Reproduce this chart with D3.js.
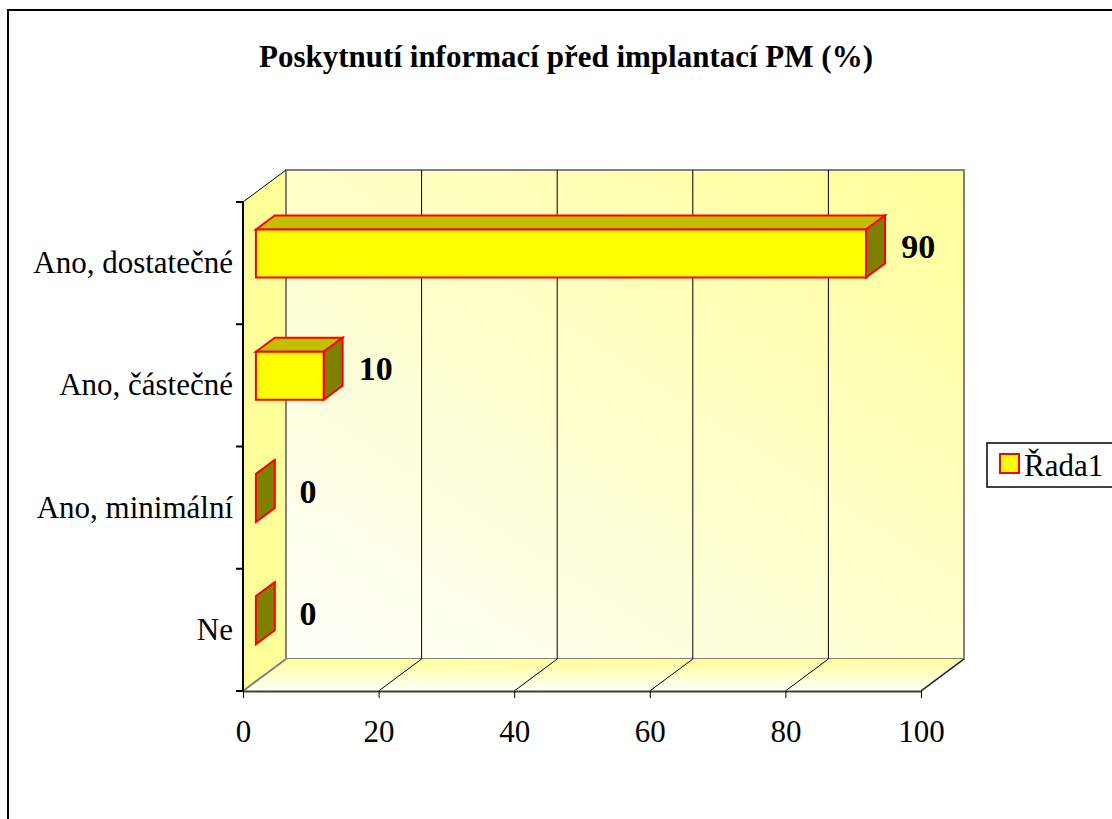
<!DOCTYPE html>
<html>
<head>
<meta charset="utf-8">
<script src="https://cdn.jsdelivr.net/npm/d3@7"></script>
<style>
  html, body { margin: 0; padding: 0; background: #fff; }
  svg { display: block; }
  text { font-family: "Liberation Serif", "Times New Roman", serif; fill: #000; }
</style>
</head>
<body>
<svg id="chart" width="1112" height="819"></svg>
<script>
// Chart data
const title = "Poskytnutí informací před implantací PM (%)";
const categories = ["Ano, dostatečné", "Ano, částečné", "Ano, minimální", "Ne"];
const values = [90, 10, 0, 0];
const xTicks = [0, 20, 40, 60, 80, 100];
const seriesName = "Řada1";

const SERIF = "'Liberation Serif', 'Times New Roman', serif";
const svg = d3.select("#chart");

// Outer chart-area frame
svg.append("rect")
  .attr("x", 8).attr("y", 10).attr("width", 1200).attr("height", 900)
  .attr("fill", "#fff").attr("stroke", "#000").attr("stroke-width", 2);

// Plot geometry (front plane) and oblique depth
const x = d3.scaleLinear().domain([0, 100]).range([243, 921]);
const y = d3.scaleBand().domain(categories).range([202, 691]).padding(0);
const DX = 43, DY = 32;              // depth offset of the back wall
const P = (px, py, z) => [px + z * DX, py - z * DY];
const poly = pts => "M" + pts.map(p => p.join(",")).join("L") + "Z";

const x0 = x.range()[0], x1 = x.range()[1];
const yTop = y.range()[0], yBot = y.range()[1];

const defs = svg.append("defs");
const gWall = defs.append("linearGradient").attr("id", "wallGrad")
  .attr("x1", "1").attr("y1", "0").attr("x2", "0.1").attr("y2", "1");
gWall.append("stop").attr("offset", "0").attr("stop-color", "#FFFF99");
gWall.append("stop").attr("offset", "1").attr("stop-color", "#FFFFF8");
const gFloor = defs.append("linearGradient").attr("id", "floorGrad")
  .attr("x1", "0").attr("y1", "0").attr("x2", "0").attr("y2", "1");
gFloor.append("stop").attr("offset", "0").attr("stop-color", "#FFFF99");
gFloor.append("stop").attr("offset", "1").attr("stop-color", "#FFFFFA");

// Side wall
svg.append("path")
  .attr("d", poly([P(x0, yTop, 0), P(x0, yTop, 1), P(x0, yBot, 1), P(x0, yBot, 0)]))
  .attr("fill", "#FFFF99").attr("stroke", "none");

// Back wall
svg.append("path")
  .attr("d", poly([P(x0, yTop, 1), P(x1, yTop, 1), P(x1, yBot, 1), P(x0, yBot, 1)]))
  .attr("fill", "url(#wallGrad)").attr("stroke", "#808080").attr("stroke-width", 2);

// Floor
svg.append("path")
  .attr("d", poly([P(x0, yBot, 0), P(x0, yBot, 1), P(x1, yBot, 1), P(x1, yBot, 0)]))
  .attr("fill", "url(#floorGrad)").attr("stroke", "none");
svg.append("path")
  .attr("d", "M" + P(x1, yBot, 0).join(",") + "L" + P(x1, yBot, 1).join(","))
  .attr("stroke", "#808080").attr("stroke-width", 2).attr("fill", "none");

// Gridlines on back wall and floor
xTicks.filter(t => t > 0 && t < 100).forEach(t => {
  svg.append("path")
    .attr("d", "M" + P(x(t), yTop, 1).join(",") + "L" + P(x(t), yBot, 1).join(","))
    .attr("stroke", "#000").attr("stroke-width", 1).attr("fill", "none");
});
xTicks.filter(t => t > 0).forEach(t => {
  svg.append("path")
    .attr("d", "M" + P(x(t), yBot, 0).join(",") + "L" + P(x(t), yBot, 1).join(","))
    .attr("stroke", "#000").attr("stroke-width", 1).attr("fill", "none");
});
// Back-wall left edge, top diagonal and floor diagonal
svg.append("path")
  .attr("d", "M" + P(x0, yTop, 1).join(",") + "L" + P(x0, yBot, 1).join(","))
  .attr("stroke", "#808080").attr("stroke-width", 2).attr("fill", "none");
svg.append("path")
  .attr("d", "M" + P(x0, yTop, 0).join(",") + "L" + P(x0, yTop, 1).join(","))
  .attr("stroke", "#000").attr("stroke-width", 1).attr("fill", "none");
svg.append("path")
  .attr("d", "M" + P(x0, yBot, 0).join(",") + "L" + P(x0, yBot, 1).join(","))
  .attr("stroke", "#808080").attr("stroke-width", 2).attr("fill", "none");

// Bottom value axis
const xAxis = d3.axisBottom(x).tickValues(xTicks).tickSize(7).tickPadding(22).tickSizeOuter(0);
const gx = svg.append("g").attr("transform", `translate(0,${yBot})`).call(xAxis);
gx.attr("font-family", SERIF);
gx.select(".domain").attr("stroke", "#404040").attr("stroke-width", 2);
gx.selectAll(".tick line").attr("stroke", "#000");
gx.selectAll(".tick text")
  .style("font-family", SERIF).style("font-size", "31px").attr("fill", "#000");

// Left category axis: line and boundary ticks
svg.append("line").attr("x1", x0).attr("x2", x0).attr("y1", yTop).attr("y2", yBot)
  .attr("stroke", "#000").attr("stroke-width", 2);
const bounds = categories.map(c => y(c)).concat([yBot]);
svg.selectAll(".ytick").data(bounds).enter().append("line")
  .attr("x1", x0 - 7).attr("x2", x0).attr("y1", d => d).attr("y2", d => d)
  .attr("stroke", "#000").attr("stroke-width", 2);
svg.selectAll(".ylab").data(categories).enter().append("text")
  .attr("x", x0 - 10).attr("y", d => y(d) + y.bandwidth() / 2 + 10)
  .attr("text-anchor", "end").style("font-size", "31px")
  .text(d => d);

// Bars (top, right and front faces)
const Z0 = 0.3, Z1 = 0.74, HALF = 24;
const bars = svg.append("g");
categories.forEach((c, i) => {
  const v = values[i];
  const yc = y(c) + y.bandwidth() / 2;
  const ya = yc - HALF, yb = yc + HALF;
  const g = bars.append("g").attr("stroke", "#FF0000").attr("stroke-width", 2);
  g.append("path").attr("d", poly([P(x(0), ya, Z0), P(x(v), ya, Z0), P(x(v), ya, Z1), P(x(0), ya, Z1)]))
    .attr("fill", "#C0C000");
  g.append("path").attr("d", poly([P(x(v), ya, Z0), P(x(v), ya, Z1), P(x(v), yb, Z1), P(x(v), yb, Z0)]))
    .attr("fill", "#808000");
  if (v > 0) {
    g.append("path").attr("d", poly([P(x(0), ya, Z0), P(x(v), ya, Z0), P(x(v), yb, Z0), P(x(0), yb, Z0)]))
      .attr("fill", "#FFFF00");
  }
  // value label
  svg.append("text")
    .attr("x", x(v) + 65).attr("y", yc - 5)
    .attr("text-anchor", "middle").style("font-size", "34px").style("font-weight", "bold")
    .text(v);
});

// Title
svg.append("text").attr("x", 566).attr("y", 67).attr("text-anchor", "middle")
  .style("font-size", "31px").style("font-weight", "bold").text(title);

// Legend
const lg = svg.append("g");
lg.append("rect").attr("x", 987).attr("y", 443).attr("width", 140).attr("height", 44)
  .attr("fill", "#fff").attr("stroke", "#000").attr("stroke-width", 1.5);
lg.append("rect").attr("x", 1000).attr("y", 454).attr("width", 19).attr("height", 19)
  .attr("fill", "#FFFF00").attr("stroke", "#FF0000").attr("stroke-width", 2);
lg.append("text").attr("x", 1024).attr("y", 476).style("font-size", "31px").text(seriesName);
</script>
</body>
</html>
